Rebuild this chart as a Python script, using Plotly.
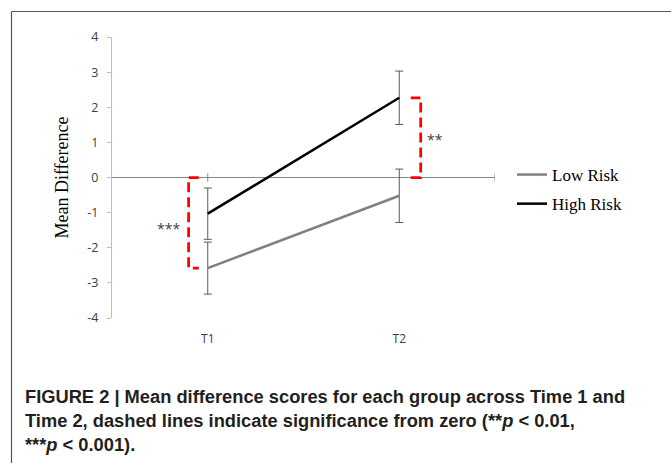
import plotly.graph_objects as go

# ---- data ----
categories = ["T1", "T2"]
low_risk = [-2.58, -0.52]
low_risk_err = [0.74, 0.76]
high_risk = [-1.03, 2.27]
high_risk_err = [0.73, 0.76]
sig_labels = ["***", "**"]          # significance from zero
sig_series = ["low", "high"]        # which series each bracket marks
y_ticks = [4, 3, 2, 1, 0, -1, -2, -3, -4]
y_ticktext = [str(v) for v in y_ticks]

W, H = 671, 463
L, R, T, B = 112, 495, 37, 318   # plot area in pixels


def px_x(x):
    return (x - L) / (R - L)


def px_y(y):
    return (B - y) / (B - T)


xs = list(range(len(categories)))
fig = go.Figure()

fig.add_trace(go.Scatter(
    x=xs, y=low_risk, mode="lines", name="Low Risk",
    line=dict(color="#808080", width=2.5),
    error_y=dict(type="data", array=low_risk_err, visible=True,
                 color="#595959", thickness=1, width=4),
    legendgroup="a",
))
fig.add_trace(go.Scatter(
    x=xs, y=high_risk, mode="lines", name="High Risk",
    line=dict(color="#000000", width=2.5),
    error_y=dict(type="data", array=high_risk_err, visible=True,
                 color="#595959", thickness=1, width=4),
    legendgroup="b",
))

# significance brackets (from zero to the marked mean)
series_map = {"low": low_risk, "high": high_risk}
bracket_cfg = [dict(outer=-0.10, inner=-0.047, side="left"),
               dict(outer=1.112, inner=1.06, side="right")]
for i, (lab, ser) in enumerate(zip(sig_labels, sig_series)):
    v = series_map[ser][i]
    c = bracket_cfg[i]
    fig.add_trace(go.Scatter(
        x=[c["inner"], c["outer"], c["outer"], c["inner"]],
        y=[0, 0, v, v], mode="lines", showlegend=False, hoverinfo="skip",
        line=dict(color="#ff0000", width=2.75, dash="10px,5px"),
    ))
    if c["side"] == "left":
        fig.add_annotation(x=c["outer"] - 0.036, y=v / 2, text=lab, showarrow=False,
                           xanchor="right", yanchor="middle", yshift=-6,
                           font=dict(family="Open Sans", size=14, color="#404040"))
    else:
        fig.add_annotation(x=c["outer"] + 0.02, y=v / 2, text=lab, showarrow=False,
                           xanchor="left", yanchor="middle", yshift=-2,
                           font=dict(family="Open Sans", size=14, color="#404040"))

# small axis tick marks on the zero line
for tx in [0, 1.5]:
    fig.add_shape(type="line", xref="x", yref="y", x0=tx, x1=tx, y0=-0.12, y1=0.12,
                  line=dict(color="#868686", width=1))

# frame around figure
fig.add_shape(type="line", xref="paper", yref="paper",
              x0=px_x(11.5), x1=px_x(11.5), y0=px_y(11.5), y1=px_y(470),
              line=dict(color="#555555", width=1.2))
fig.add_shape(type="line", xref="paper", yref="paper",
              x0=px_x(11.5), x1=px_x(680), y0=px_y(11.5), y1=px_y(11.5),
              line=dict(color="#555555", width=1.2))

# caption
cap_font = dict(family="Liberation Sans", size=18.3, color="#231f20")
captions = [
    "<b>FIGURE 2 | Mean difference scores for each group across Time 1 and</b>",
    "<b>Time 2, dashed lines indicate significance from zero (**<i>p</i> &lt; 0.01,</b>",
    "<b>***<i>p</i> &lt; 0.001).</b>",
]
for k, (txt, yy) in enumerate(zip(captions, [397, 420.5, 444])):
    fig.add_annotation(xref="paper", yref="paper", x=px_x(23), y=px_y(yy),
                       text=txt, showarrow=False, xanchor="left", yanchor="middle",
                       font=cap_font, align="left")

fig.update_layout(
    width=W, height=H,
    margin=dict(l=L, r=W - R, t=T, b=H - B, pad=0),
    paper_bgcolor="white", plot_bgcolor="white",
    showlegend=True,
    legend=dict(x=px_x(512), y=px_y(157), xanchor="left", yanchor="top",
                font=dict(family="Liberation Serif", size=17, color="#000000"),
                bgcolor="rgba(0,0,0,0)", tracegroupgap=4, traceorder="grouped"),
    xaxis=dict(range=[-0.5, 1.5], tickvals=xs, ticktext=categories,
               showgrid=False, zeroline=False, showline=False, ticks="",
               ticklabelstandoff=12,
               tickfont=dict(family="Open Sans", size=12, color="#404040"),
               fixedrange=True),
    yaxis=dict(range=[-4, 4], tickvals=y_ticks, ticktext=y_ticktext, showgrid=False,
               zeroline=True, zerolinecolor="#868686", zerolinewidth=1,
               showline=True, linecolor="#bfbfbf", linewidth=1,
               ticks="outside", ticklen=4, tickcolor="#bfbfbf",
               ticklabelstandoff=6,
               tickfont=dict(family="Open Sans", size=12.5, color="#404040"),
               title=dict(text="Mean Difference", standoff=14,
                          font=dict(family="Liberation Serif", size=18, color="#000000"))),
)

fig.write_html("out.html")
